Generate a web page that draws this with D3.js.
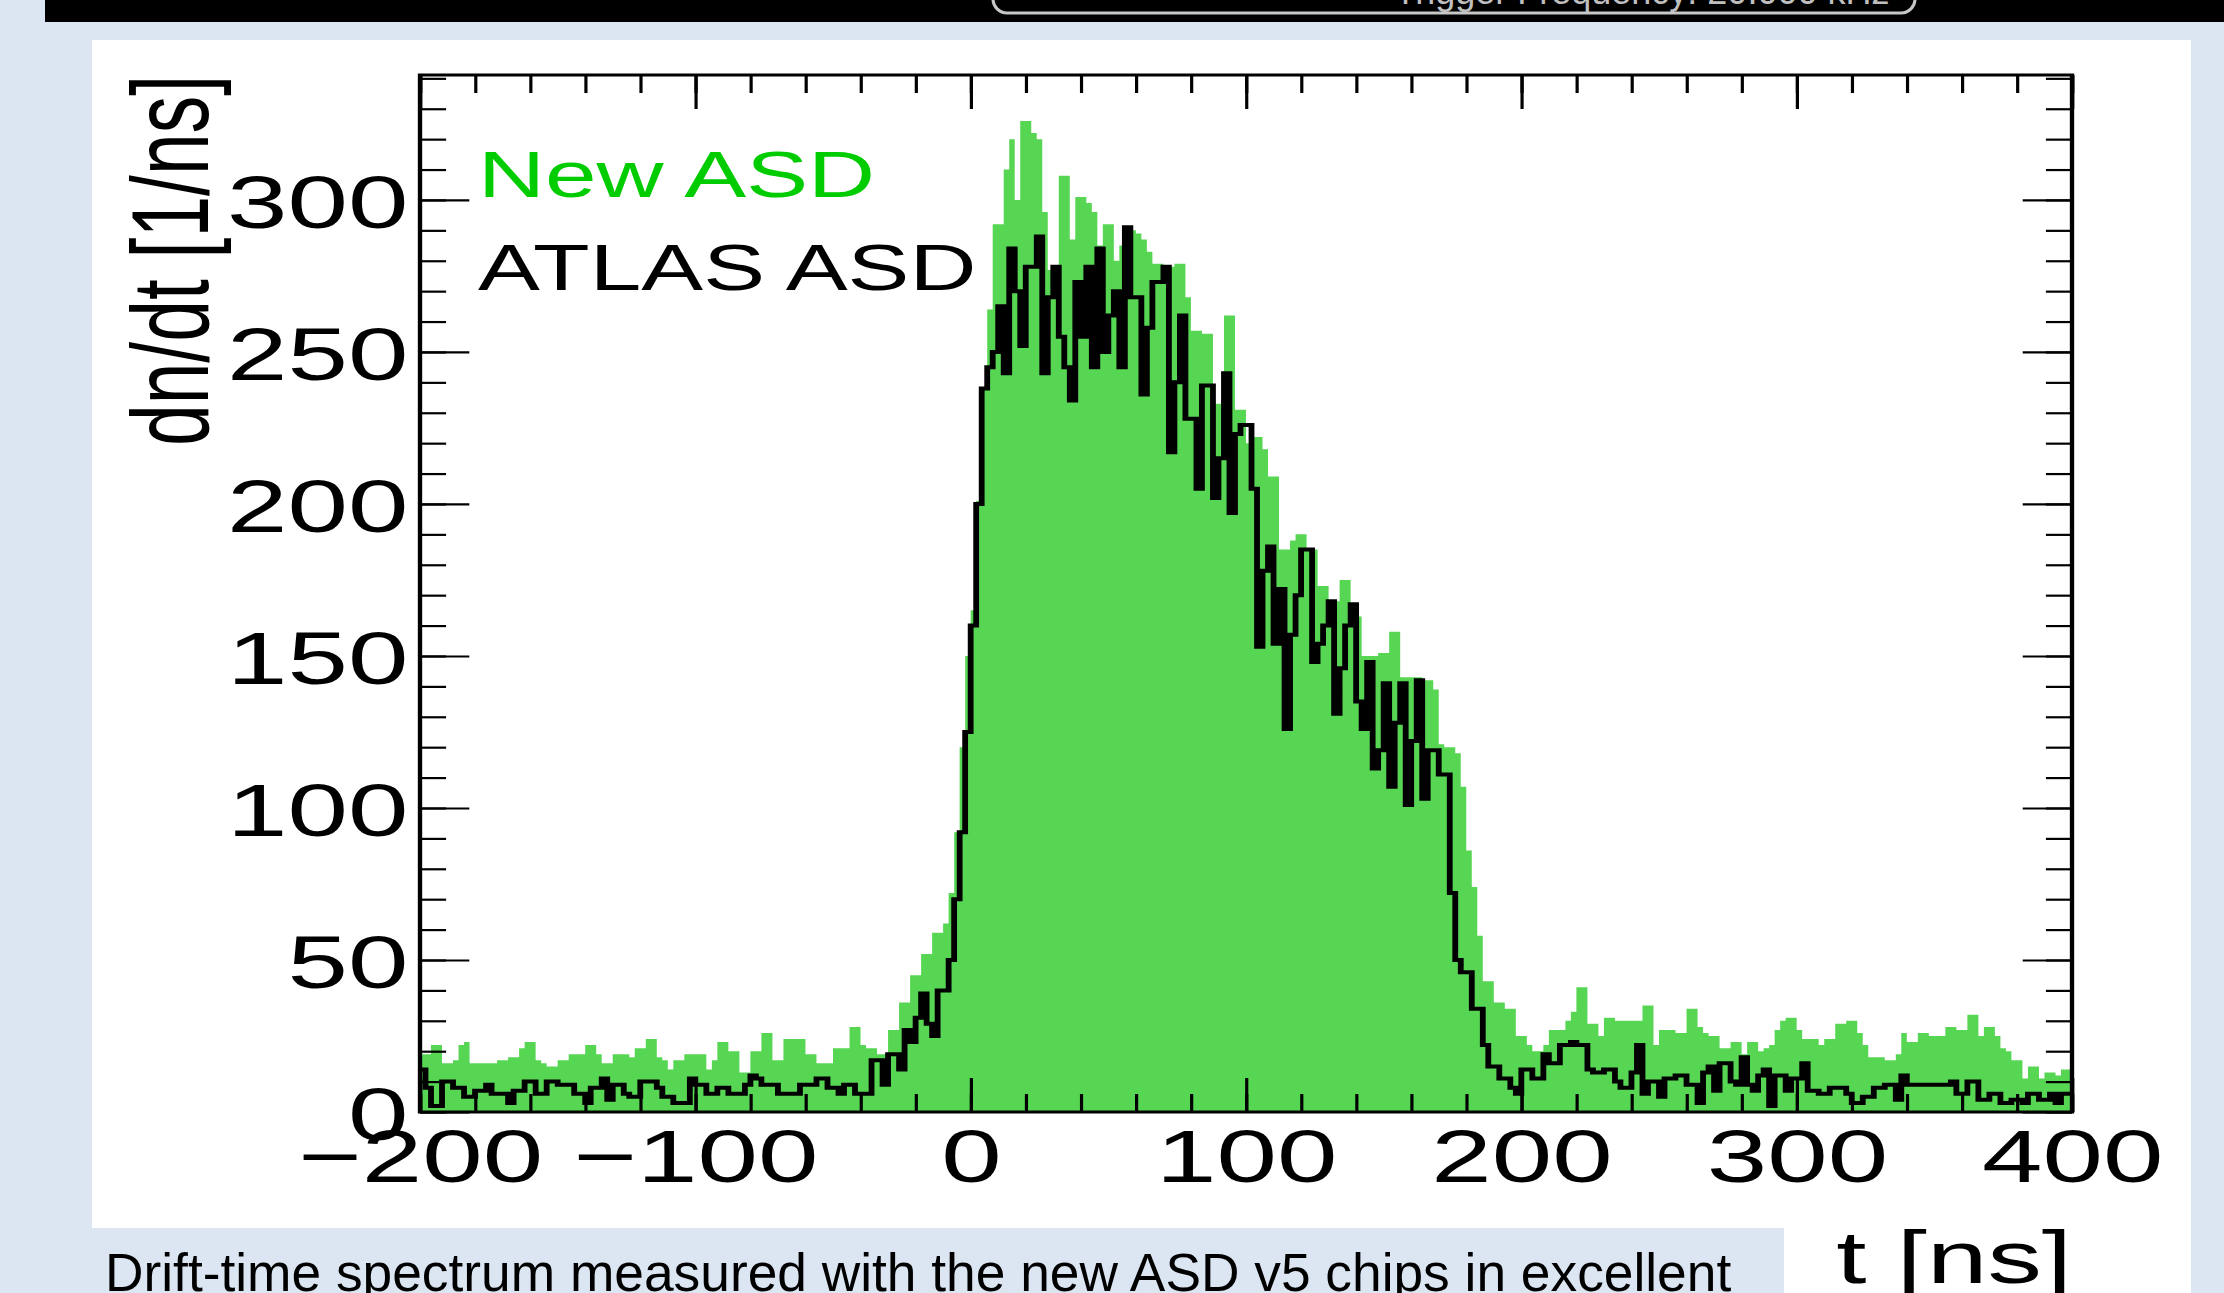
<!DOCTYPE html>
<html>
<head>
<meta charset="utf-8">
<script src="https://cdn.jsdelivr.net/npm/d3@7"></script>
<style>
  html, body { margin: 0; padding: 0; background: #dce6f2; overflow: hidden; }
  svg { display: block; }
</style>
</head>
<body>
<svg id="chart" width="2224" height="1293"></svg>
<script>
// histogram binning: 300 bins of 2 ns from -200 ns
const binStart = -200;
const binWidth = 2;

// dn/dt per bin, New ASD (green fill)
const newAsd = [
  19,19,22,22,16,16,17,22,23,16, 16,16,16,16,17,17,18,18,21,23,
  23,17,16,15,15,17,17,19,19,19, 22,22,19,16,16,19,19,19,18,21,
  21,24,24,18,17,14,17,17,19,19, 19,19,14,17,23,23,20,20,13,13,
  20,20,26,26,17,17,24,24,24,24, 19,19,16,16,16,21,21,21,28,28,
  22,21,21,19,19,27,27,36,36,45, 45,52,52,59,59,62,72,92,120,150,
  165,201,238,264,292,292,310,320,300,326, 326,322,320,296,277,277,308,308,287,301,
  301,299,296,285,292,292,280,285,291,290, 289,287,283,279,279,278,278,279,279,268,
  257,257,256,256,233,233,262,262,231,231, 220,222,222,218,209,209,185,185,188,190,
  190,185,185,173,173,168,168,175,175,163, 163,150,150,150,151,151,158,158,143,143,
  143,143,142,142,139,121,120,120,118,107, 86,74,58,43,43,36,36,34,34,25,
  25,22,20,20,22,27,27,27,30,33, 41,41,29,29,25,31,31,30,30,30,
  30,30,35,35,22,27,27,27,26,26, 34,34,28,26,25,25,21,21,23,23,
  19,23,23,20,21,22,27,30,31,31, 27,24,24,24,22,24,24,29,29,30,
  30,26,22,18,18,18,17,17,19,26, 23,23,26,26,25,25,25,28,28,27,
  27,32,32,25,28,28,25,21,20,17, 17,11,15,15,11,13,13,12,14,14
];

// dn/dt per bin, ATLAS ASD (black line)
const atlasAsd = [
  14,8,2,2,10,10,8,8,5,5, 7,7,9,6,6,6,3,7,7,10,
  10,6,6,10,10,9,9,9,6,6, 3,8,8,11,4,9,9,6,5,5,
  10,10,10,8,5,5,3,3,3,11, 9,9,6,6,8,8,6,6,6,9,
  12,11,9,9,9,6,6,6,6,9, 9,9,11,11,8,8,6,9,9,6,
  6,6,17,17,9,19,19,14,27,23, 31,39,29,25,40,40,50,70,92,125,
  160,200,238,245,250,265,243,284,270,252, 278,278,288,243,268,278,255,245,234,273,
  255,278,245,284,250,262,270,245,291,268, 268,236,258,273,273,278,217,240,262,228,
  228,205,239,239,202,215,243,197,223,226, 226,205,153,178,186,154,172,126,157,170,
  185,185,148,154,160,168,131,146,160,167, 135,126,148,113,119,141,107,128,141,101,
  122,142,103,119,119,111,111,72,50,46, 46,34,34,22,15,15,11,11,8,6,
  14,14,11,11,19,16,16,22,22,23, 22,22,14,13,13,14,14,10,8,8,
  13,22,6,10,10,5,11,11,12,12, 9,9,3,13,15,7,16,16,10,9,
  18,9,7,12,14,2,12,12,7,11, 11,16,7,7,6,6,8,8,8,6,
  3,3,5,5,8,8,9,9,4,12, 9,9,9,9,9,9,9,9,10,6,
  6,10,10,4,4,6,6,3,3,4, 4,3,6,6,4,4,6,3,6,6
];

const seriesNames = ["New ASD", "ATLAS ASD"];
const xTicks = [-200, -100, 0, 100, 200, 300, 400];
const yTicks = [0, 50, 100, 150, 200, 250, 300];
const xTitle = "t [ns]";
const yTitle = "dn/dt [1/ns]";
const caption = "Drift-time spectrum measured with the new ASD v5 chips in excellent";
const banner = "Trigger Frequency: 20.000 kHz";

const font = "'Liberation Sans', Arial, Helvetica, sans-serif";
const green = "#57d654";
const sx = 1.45; // the original canvas is stretched horizontally

const svg = d3.select("#chart");

// page pieces around the plot
svg.append("rect").attr("x", 45).attr("y", 0).attr("width", 2179).attr("height", 22).attr("fill", "#000");
svg.append("text")
  .attr("x", 1642).attr("y", 4)
  .attr("text-anchor", "middle")
  .attr("font-family", font).attr("font-size", 36)
  .attr("fill", "#bfbfbf")
  .text(banner);
svg.append("rect")
  .attr("x", 993).attr("y", -40).attr("width", 922).attr("height", 53).attr("rx", 14)
  .attr("fill", "none").attr("stroke", "#c8c8c8").attr("stroke-width", 3);

svg.append("rect").attr("x", 92).attr("y", 40).attr("width", 2099).attr("height", 1253).attr("fill", "#fff");
svg.append("rect").attr("x", 92).attr("y", 1228).attr("width", 1692).attr("height", 65).attr("fill", "#dce6f2");
svg.append("text")
  .attr("x", 105).attr("y", 1291)
  .attr("font-family", font).attr("font-size", 53.3)
  .attr("fill", "#000")
  .text(caption);

// plot, drawn in stretched coordinates
const frameL = 420, frameR = 2072, frameT = 75, frameB = 1112;
const plot = svg.append("g").attr("transform", `scale(${sx},1)`);

const x = d3.scaleLinear().domain([-200, 400]).range([frameL / sx, frameR / sx]);
const y = d3.scaleLinear().domain([0, 341.1]).range([frameB, frameT]);

const bins = (vals) => {
  const pts = vals.map((v, i) => ({ t: binStart + i * binWidth, v }));
  pts.push({ t: binStart + vals.length * binWidth, v: vals[vals.length - 1] });
  return pts;
};

plot.append("clipPath").attr("id", "frame")
  .append("rect").attr("x", frameL / sx).attr("y", frameT)
  .attr("width", (frameR - frameL) / sx).attr("height", frameB - frameT);

const hist = plot.append("g").attr("clip-path", "url(#frame)");

hist.append("path")
  .datum(bins(newAsd))
  .attr("fill", green)
  .attr("d", d3.area().curve(d3.curveStepAfter)
    .x((d) => x(d.t)).y0(y(0)).y1((d) => y(d.v)));

hist.append("path")
  .datum(bins(atlasAsd))
  .attr("fill", "none")
  .attr("stroke", "#000")
  .attr("stroke-width", 4)
  .attr("d", d3.line().curve(d3.curveStepAfter)
    .x((d) => x(d.t)).y((d) => y(d.v)));

// axes, ROOT style: ticks inside on all four sides
const major = 34, minor = 18;
const tidy = (g) => {
  g.select(".domain").remove();
  g.selectAll("line").attr("stroke", "#000").attr("stroke-width", 2.2);
  g.selectAll("text").attr("font-family", font).attr("font-size", 75).attr("fill", "#000");
};

plot.append("g").attr("transform", `translate(${frameL / sx},0)`)
  .call(d3.axisLeft(y).tickValues(d3.range(0, 341, 10)).tickSize(-minor).tickFormat(""))
  .call(tidy);
plot.append("g").attr("transform", `translate(${frameL / sx},0)`)
  .call(d3.axisLeft(y).tickValues(yTicks).tickSizeInner(-major).tickSizeOuter(0).tickPadding(8))
  .call(tidy)
  .call((g) => g.selectAll("text").attr("dy", "0.37em"));
plot.append("g").attr("transform", `translate(${frameR / sx},0)`)
  .call(d3.axisRight(y).tickValues(d3.range(0, 341, 10)).tickSize(-minor).tickFormat(""))
  .call(tidy);
plot.append("g").attr("transform", `translate(${frameR / sx},0)`)
  .call(d3.axisRight(y).tickValues(yTicks).tickSize(-major).tickFormat(""))
  .call(tidy);

plot.append("g").attr("transform", `translate(0,${frameB})`)
  .call(d3.axisBottom(x).tickValues(d3.range(-200, 401, 20)).tickSize(-minor).tickFormat(""))
  .call(tidy);
plot.append("g").attr("transform", `translate(0,${frameB})`)
  .call(d3.axisBottom(x).tickValues(xTicks).tickSizeInner(-major).tickSizeOuter(0).tickPadding(17))
  .call(tidy);
plot.append("g").attr("transform", `translate(0,${frameT})`)
  .call(d3.axisTop(x).tickValues(d3.range(-200, 401, 20)).tickSize(-minor).tickFormat(""))
  .call(tidy);
plot.append("g").attr("transform", `translate(0,${frameT})`)
  .call(d3.axisTop(x).tickValues(xTicks).tickSize(-major).tickFormat(""))
  .call(tidy);

plot.append("rect")
  .attr("x", frameL / sx).attr("y", frameT)
  .attr("width", (frameR - frameL) / sx).attr("height", frameB - frameT)
  .attr("fill", "none").attr("stroke", "#000").attr("stroke-width", 3);

// titles
plot.append("text")
  .attr("transform", `translate(${208 / sx},${frameT}) rotate(-90)`)
  .attr("text-anchor", "end")
  .attr("font-family", font).attr("font-size", 75)
  .text(yTitle);
plot.append("text")
  .attr("x", frameR / sx).attr("y", 1283)
  .attr("text-anchor", "end")
  .attr("font-family", font).attr("font-size", 75)
  .text(xTitle);

// legend
const legendColors = ["#00cc00", "#000"];
plot.selectAll(".legend")
  .data(seriesNames)
  .join("text")
  .attr("class", "legend")
  .attr("x", 478 / sx)
  .attr("y", (d, i) => 197 + i * 93)
  .attr("font-family", font).attr("font-size", 64)
  .attr("fill", (d, i) => legendColors[i])
  .text((d) => d);
</script>
</body>
</html>
